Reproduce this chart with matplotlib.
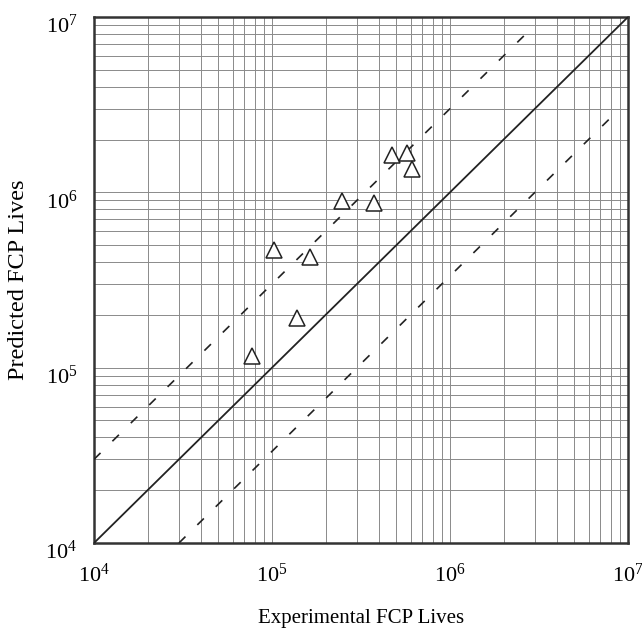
import numpy as np
import matplotlib
matplotlib.use("Agg")
import matplotlib.pyplot as plt
import matplotlib.transforms as mtransforms
from matplotlib.ticker import LogLocator, LogFormatterMathtext, NullFormatter

plt.rcParams["font.family"] = ["Liberation Serif", "DejaVu Serif"]
plt.rcParams["mathtext.fontset"] = "stix"

# experimental vs predicted fatigue crack propagation lives (cycles)
exp_lives = [7.7e4, 1.02e5, 1.38e5, 1.63e5, 2.47e5, 3.72e5, 4.75e5, 5.73e5, 6.15e5]
pred_lives = [1.17e5, 4.69e5, 1.91e5, 4.25e5, 8.91e5, 8.71e5, 1.64e6, 1.67e6, 1.36e6]

# 1:1 line and factor-of-3 scatter band
unity = [1e4, 1e7]
band_upper_x = [1e4, 3e6]
band_lower_x = [3e4, 9e6]
band_factor = 3.0

fig = plt.figure(figsize=(6.42, 6.29), dpi=100, facecolor="white")
ax = fig.add_axes([0.1464, 0.1367, 0.8318, 0.8363])
ax.set_xscale("log")
ax.set_yscale("log")
ax.set_xlim(1e4, 1e7)
ax.set_ylim(1e4, 1e7)

for axis in (ax.xaxis, ax.yaxis):
    axis.set_major_locator(LogLocator(base=10))
    axis.set_minor_locator(LogLocator(base=10, subs=np.arange(2, 10)))
    axis.set_major_formatter(LogFormatterMathtext())
    axis.set_minor_formatter(NullFormatter())

ax.grid(True, which="both", color="#8a8a8a", linewidth=0.7)
ax.tick_params(which="both", length=0, labelsize=16)
ax.tick_params(axis="x", pad=15)
ax.tick_params(axis="y", pad=12)

# y labels sit a little below their grid line
shift = mtransforms.ScaledTranslation(0, -5 / 72, fig.dpi_scale_trans)
for lbl in ax.get_yticklabels():
    lbl.set_transform(lbl.get_transform() + shift)

ax.plot(unity, unity, color="#222222", linewidth=1.3, zorder=3)
ax.plot(band_upper_x, [x * band_factor for x in band_upper_x],
        color="#222222", linewidth=1.2, dashes=(5.5, 10), zorder=3)
ax.plot(band_lower_x, [x / band_factor for x in band_lower_x],
        color="#222222", linewidth=1.2, dashes=(5.5, 10), zorder=3)

ax.plot(exp_lives, pred_lives, linestyle="none", marker="^", markersize=11,
        markerfacecolor="white", markeredgecolor="#222222", markeredgewidth=1.1,
        zorder=4)

for side in ax.spines.values():
    side.set_linewidth(1.8)
    side.set_color("#333333")

ax.set_xlabel("Experimental FCP Lives", fontsize=15, labelpad=16)
ax.set_ylabel("Predicted FCP Lives", fontsize=17.5, labelpad=12)

fig.savefig("out.png", dpi=100, facecolor="white")
